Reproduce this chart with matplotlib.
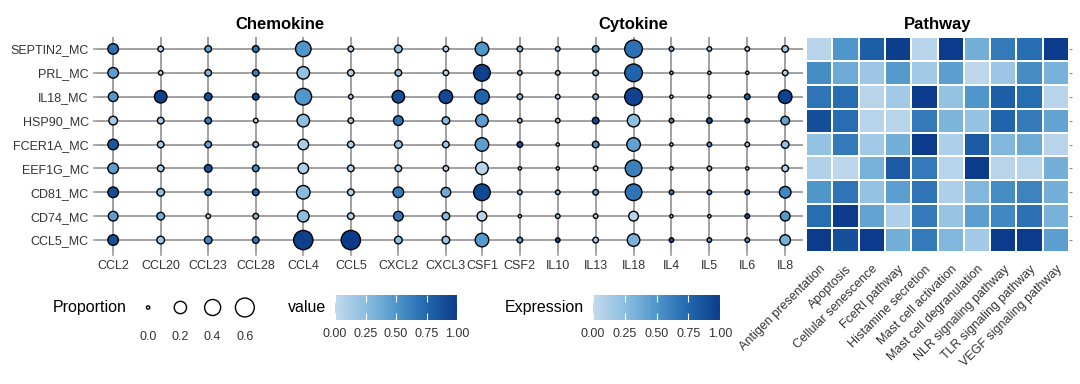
import numpy as np
import matplotlib
matplotlib.use('Agg')
import matplotlib.pyplot as plt
from matplotlib.colors import LinearSegmentedColormap, Normalize
from matplotlib.cm import ScalarMappable

plt.rcParams['font.family'] = ['Liberation Sans', 'DejaVu Sans']

# rows, top to bottom
samples = ['SEPTIN2_MC', 'PRL_MC', 'IL18_MC', 'HSP90_MC', 'FCER1A_MC',
           'EEF1G_MC', 'CD81_MC', 'CD74_MC', 'CCL5_MC']

chemokines = ['CCL2', 'CCL20', 'CCL23', 'CCL28', 'CCL4', 'CCL5', 'CXCL2', 'CXCL3']
cytokines = ['CSF1', 'CSF2', 'IL10', 'IL13', 'IL18', 'IL4', 'IL5', 'IL6', 'IL8']

# proportion per gene (one list per gene, samples top to bottom)
prop_chemo = [
    [0.13, 0.13, 0.10, 0.07, 0.13, 0.13, 0.13, 0.10, 0.13],
    [0.013, 0.004, 0.21, 0.027, 0.027, 0.027, 0.046, 0.046, 0.046],
    [0.027, 0.027, 0.046, 0.027, 0.027, 0.046, 0.027, 0.004, 0.046],
    [0.027, 0.027, 0.027, 0.004, 0.013, 0.027, 0.027, 0.013, 0.027],
    [0.37, 0.21, 0.44, 0.21, 0.13, 0.13, 0.26, 0.17, 0.63],
    [0.013, 0.027, 0.004, 0.013, 0.027, 0.027, 0.027, 0.027, 0.63],
    [0.046, 0.027, 0.21, 0.10, 0.046, 0.027, 0.13, 0.10, 0.046],
    [0.013, 0.013, 0.26, 0.046, 0.027, 0.013, 0.10, 0.046, 0.046],
]
prop_cyto = [
    [0.26, 0.44, 0.32, 0.21, 0.26, 0.21, 0.44, 0.10, 0.26],
    [0.013, 0.004, 0.013, 0.004, 0.013, 0.0, 0.004, 0.0, 0.013],
    [0.004, 0.004, 0.004, 0.004, 0.0, 0.0, 0.004, 0.004, 0.004],
    [0.027, 0.013, 0.013, 0.027, 0.027, 0.004, 0.013, 0.004, 0.013],
    [0.51, 0.51, 0.51, 0.21, 0.26, 0.44, 0.44, 0.10, 0.21],
    [0.004, 0.0, 0.0, 0.004, 0.0, 0.0, 0.004, 0.0, 0.004],
    [0.004, 0.0, 0.0, 0.013, 0.004, 0.004, 0.004, 0.0, 0.004],
    [0.004, 0.0, 0.013, 0.004, 0.004, 0.0, 0.004, 0.004, 0.004],
    [0.027, 0.013, 0.26, 0.07, 0.046, 0.027, 0.17, 0.10, 0.13],
]

# scaled value per gene (same layout)
value_chemo = [
    [0.70, 0.45, 0.50, 0.15, 0.85, 0.45, 0.90, 0.45, 0.90],
    [0.05, 0.02, 0.97, 0.15, 0.15, 0.12, 0.25, 0.35, 0.18],
    [0.42, 0.30, 0.90, 0.65, 0.42, 0.88, 0.60, 0.07, 0.58],
    [0.68, 0.63, 0.92, 0.03, 0.20, 0.55, 0.75, 0.27, 0.67],
    [0.50, 0.22, 0.50, 0.25, 0.12, 0.10, 0.27, 0.25, 0.97],
    [0.07, 0.08, 0.10, 0.08, 0.10, 0.07, 0.08, 0.08, 1.00],
    [0.20, 0.20, 0.90, 0.68, 0.20, 0.10, 0.63, 0.67, 0.25],
    [0.05, 0.08, 0.93, 0.28, 0.17, 0.08, 0.38, 0.28, 0.18],
]
value_cyto = [
    [0.50, 0.97, 0.78, 0.45, 0.45, 0.05, 0.92, 0.05, 0.48],
    [0.27, 0.20, 0.27, 0.25, 0.90, 0.08, 0.15, 0.10, 0.48],
    [0.15, 0.12, 0.12, 0.18, 0.08, 0.08, 0.25, 0.25, 0.92],
    [0.52, 0.25, 0.32, 0.92, 0.50, 0.06, 0.42, 0.12, 0.12],
    [0.70, 0.77, 0.95, 0.25, 0.43, 0.62, 0.68, 0.05, 0.33],
    [0.28, 0.22, 0.06, 0.58, 0.12, 0.10, 0.58, 0.10, 0.90],
    [0.15, 0.13, 0.10, 0.90, 0.50, 0.25, 0.52, 0.10, 0.42],
    [0.10, 0.10, 0.80, 0.80, 0.13, 0.10, 0.55, 0.90, 0.50],
    [0.15, 0.08, 0.95, 0.43, 0.22, 0.06, 0.58, 0.48, 0.35],
]

pathways = ['Antigen presentation', 'Apoptosis', 'Cellular senescence',
            'FceRI pathway', 'Histamine secretion', 'Mast cell activation',
            'Mast cell degranulation', 'NLR signaling pathway',
            'TLR signaling pathway', 'VEGF signaling pathway']

# pathway expression, one list per sample (top to bottom)
expression = [
    [0.05, 0.50, 0.80, 0.98, 0.05, 1.00, 0.35, 0.65, 0.72, 1.00],
    [0.55, 0.38, 0.18, 0.48, 0.15, 0.45, 0.02, 0.18, 0.55, 0.33],
    [0.68, 0.72, 0.05, 0.15, 1.00, 0.22, 0.50, 0.80, 0.72, 0.05],
    [0.90, 0.72, 0.05, 0.05, 0.65, 0.32, 0.22, 0.78, 0.65, 0.42],
    [0.22, 0.65, 0.15, 0.35, 1.00, 0.10, 0.82, 0.30, 0.38, 0.05],
    [0.08, 0.03, 0.33, 0.82, 0.65, 0.05, 1.00, 0.05, 0.05, 0.35],
    [0.50, 0.68, 0.22, 0.45, 0.68, 0.10, 0.30, 0.55, 0.60, 0.35],
    [0.72, 1.00, 0.42, 0.10, 0.65, 0.20, 0.45, 0.58, 0.70, 0.33],
    [1.00, 0.88, 1.00, 0.35, 0.65, 0.30, 0.15, 1.00, 1.00, 0.45],
]

size_breaks = [0.0, 0.2, 0.4, 0.6]
bar_ticks = [0.0, 0.25, 0.5, 0.75, 1.0]

cmap = LinearSegmentedColormap.from_list(
    'blues', ['#c2d9ee', '#8dbfe0', '#4f96cb', '#2268ae', '#0b3b8a'])
norm = Normalize(0, 1)
EDGE_LW = 1.0
GRID = '#9a9a9a'
TXT = '#333333'


def dot_size(p):
    # sqrt-area scale, like ggplot's scale_size
    d_px = 4.7 + 20.1 * np.sqrt(np.asarray(p, dtype=float))
    d_pt = d_px * 72 / 100 - EDGE_LW
    return d_pt ** 2


W, H = 1080, 384
fig = plt.figure(figsize=(W / 100, H / 100), dpi=100)


def px_axes(x0, y0, x1, y1):
    return fig.add_axes([x0 / W, 1 - y1 / H, (x1 - x0) / W, (y1 - y0) / H])


def dot_panel(ax, genes, prop, val, title, xlim):
    prop = np.array(prop).T
    val = np.array(val).T
    xx, yy = np.meshgrid(np.arange(len(genes)), np.arange(len(samples)))
    ax.scatter(xx.ravel(), yy.ravel(), s=dot_size(prop.ravel()),
               c=val.ravel(), cmap=cmap, norm=norm,
               edgecolors='black', linewidths=EDGE_LW, zorder=3)
    ax.set_xlim(*xlim)
    ax.set_ylim(len(samples) - 0.5, -0.5)
    ax.set_xticks(range(len(genes)))
    ax.set_xticklabels(genes, fontsize=9, color=TXT)
    ax.set_yticks(range(len(samples)))
    ax.grid(True, color=GRID, lw=1.3, zorder=0)
    ax.set_axisbelow(True)
    for s in ax.spines.values():
        s.set_visible(False)
    ax.tick_params(axis='both', length=3, color=GRID, width=1.1, pad=3)
    ax.set_title(title, fontsize=12, fontweight='bold', pad=6)


ax1 = px_axes(97, 37, 463, 252)
dot_panel(ax1, chemokines, prop_chemo, value_chemo, 'Chemokine', (-0.34, 7.36))
ax1.set_yticklabels(samples, fontsize=9, color=TXT)

ax2 = px_axes(463, 37, 803, 252)
dot_panel(ax2, cytokines, prop_cyto, value_cyto, 'Cytokine', (-0.5, 8.47))
ax2.tick_params(axis='y', left=False, labelleft=False)

# pathway heatmap
ax3 = px_axes(806, 37, 1069, 252)
ax3.pcolormesh(np.arange(len(pathways) + 1) - 0.5,
               np.arange(len(samples) + 1) - 0.5,
               np.array(expression), cmap=cmap, norm=norm,
               edgecolors='white', linewidth=1.2)
ax3.set_xlim(-0.5, len(pathways) - 0.5)
ax3.set_ylim(len(samples) - 0.5, -0.5)
ax3.set_xticks(range(len(pathways)))
ax3.set_xticklabels(pathways, rotation=45, ha='right', rotation_mode='anchor',
                    fontsize=9, color=TXT)
ax3.set_yticks(range(len(samples)))
ax3.tick_params(axis='x', length=0, pad=8)
ax3.tick_params(axis='y', left=False, labelleft=False, right=True,
                length=2, color='#888888')
for s in ax3.spines.values():
    s.set_visible(False)
ax3.set_title('Pathway', fontsize=12, fontweight='bold', pad=6)

# size legend
lax = px_axes(132, 295, 261, 320)
lax.scatter(range(len(size_breaks)), [0] * len(size_breaks),
            s=dot_size(size_breaks), facecolors='none',
            edgecolors='black', linewidths=EDGE_LW)
lax.set_xlim(-0.5, len(size_breaks) - 0.5)
lax.set_ylim(-1, 1)
lax.set_xticks(range(len(size_breaks)))
lax.set_xticklabels([f'{b:.1f}' for b in size_breaks], fontsize=9, color=TXT)
lax.tick_params(axis='x', length=0, pad=8)
lax.set_yticks([])
for s in lax.spines.values():
    s.set_visible(False)
lax.text(-0.04, 0.5, 'Proportion', transform=lax.transAxes, ha='right',
         va='center', fontsize=11.5)


def color_legend(x0, x1, title):
    cax = px_axes(x0, 295, x1, 320)
    cb = fig.colorbar(ScalarMappable(norm=norm, cmap=cmap), cax=cax,
                      orientation='horizontal', ticks=bar_ticks)
    cb.outline.set_visible(False)
    cb.ax.set_xticklabels([f'{t:.2f}' for t in bar_ticks])
    cb.ax.tick_params(direction='in', length=5, color='white', width=0.8,
                      top=True, bottom=True, labeltop=False, labelsize=9,
                      labelcolor=TXT, pad=6)
    cax.text(-0.07, 0.5, title, transform=cax.transAxes, ha='right',
             va='center', fontsize=11.5)


color_legend(335, 457, 'value')
color_legend(593, 720, 'Expression')

fig.savefig('out.png', dpi=100)
